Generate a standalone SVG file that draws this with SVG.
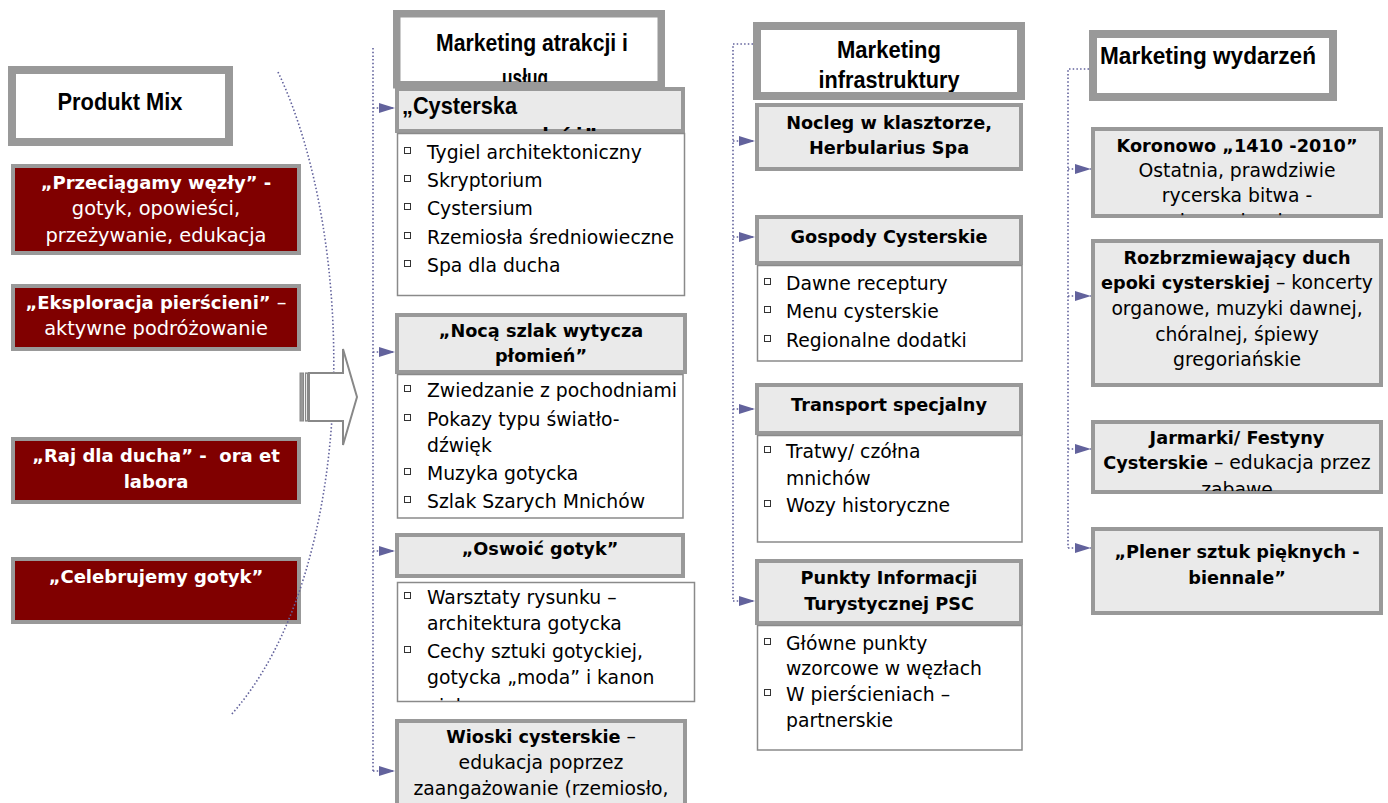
<svg xmlns="http://www.w3.org/2000/svg" width="1388" height="803" viewBox="0 0 1388 803">
<style>
.hdrbox{fill:#fff;stroke:#999;stroke-width:8}
.subbox{fill:#eaeaea;stroke:#999;stroke-width:4}
.listbox{fill:#fff;stroke:#8a8a8a;stroke-width:1.5}
.redbox{fill:#800000;stroke:#999;stroke-width:4}
.hdr{font-family:"Liberation Sans",Arial,sans-serif;font-weight:bold;font-size:24px;fill:#000;text-anchor:middle}
.t{font-family:"DejaVu Sans",Verdana,sans-serif;font-size:18.8px;fill:#000}
.t .bd,.t.bd{font-size:17.7px}
.rt{font-family:"DejaVu Sans",Verdana,sans-serif;font-size:19.4px;fill:#fff;text-anchor:middle}
.rt .bd,.rt.bd{font-size:18px}
.c{text-anchor:middle}
.bd{font-weight:bold}
.bul{fill:none;stroke:#333;stroke-width:1}
.conn{fill:none;stroke:#62629c;stroke-width:1.6;stroke-dasharray:1.5 2.2}
</style>
<defs>
<marker id="ah" viewBox="0 0 16 10" refX="16" refY="5" markerWidth="16" markerHeight="10" markerUnits="userSpaceOnUse" orient="auto"><path d="M0,0 L16,5 L0,10 z" fill="#62629c"/></marker>
<clipPath id="clipA"><rect x="401" y="17" width="256" height="65"/></clipPath>
<clipPath id="clipCy"><rect x="399" y="91" width="282" height="40"/></clipPath>
<clipPath id="clipOs"><rect x="398" y="583" width="296" height="118"/></clipPath>
<clipPath id="clipInf"><rect x="761" y="30" width="256" height="62"/></clipPath>
<clipPath id="clipKor"><rect x="1095" y="131" width="284" height="85"/></clipPath>
<clipPath id="clipJar"><rect x="1095" y="424" width="284" height="67"/></clipPath>
</defs>

<!-- Left column -->
<g id="n-produkt-mix">
<rect class="hdrbox" x="12" y="70" width="217" height="72"/>
<text class="hdr" x="120" y="110" textLength="125" lengthAdjust="spacingAndGlyphs">Produkt Mix</text>
</g>
<g id="n-przeciagamy">
<rect class="redbox" x="13" y="166" width="286" height="87"/>
<text class="rt bd" x="156" y="189">„Przeciągamy węzły” -</text>
<text class="rt" x="156" y="215">gotyk, opowieści,</text>
<text class="rt" x="156" y="242">przeżywanie, edukacja</text>
</g>
<g id="n-eksploracja">
<rect class="redbox" x="13" y="286" width="286" height="63"/>
<text class="rt" x="156" y="309"><tspan class="bd">„Eksploracja pierścieni”</tspan> –</text>
<text class="rt" x="156" y="335">aktywne podróżowanie</text>
</g>
<g id="n-raj">
<rect class="redbox" x="13" y="439" width="286" height="63"/>
<text class="rt bd" x="156" y="462">„Raj dla ducha” -&#160; ora et</text>
<text class="rt bd" x="156" y="488">labora</text>
</g>
<g id="n-celebrujemy">
<rect class="redbox" x="13" y="559" width="286" height="63"/>
<text class="rt bd" x="156" y="583">„Celebrujemy gotyk”</text>
</g>

<!-- Arc -->
<path id="arc" class="conn" d="M278,72 C358,240 360,570 231,715"/>

<!-- Big striped arrow -->
<g id="big-arrow">
<rect x="300" y="373" width="3.5" height="48" fill="#999" stroke="#888" stroke-width="1"/>
<rect x="305.5" y="373" width="2" height="48" fill="#fff" stroke="#888" stroke-width="1.2"/>
<polygon points="309,373 343,373 343,349 357,397 343,445 343,421 309,421" fill="#fff" stroke="#888" stroke-width="2"/>
</g>

<!-- Column 2 -->
<g id="n-marketing-atrakcji">
<rect class="hdrbox" x="396.75" y="13.75" width="264.5" height="71" style="stroke-width:7.5"/>
<g clip-path="url(#clipA)">
<text class="hdr" x="532" y="51" textLength="192" lengthAdjust="spacingAndGlyphs">Marketing atrakcji i</text>
<text class="hdr" x="525" y="86" textLength="46" lengthAdjust="spacingAndGlyphs">usług</text>
</g>
</g>
<g id="n-cysterska">
<rect class="subbox" x="397" y="89" width="286" height="42"/>
<g clip-path="url(#clipCy)">
<text class="hdr" x="402" y="114" style="text-anchor:start" textLength="115" lengthAdjust="spacingAndGlyphs">„Cysterska</text>
<text class="hdr" x="505" y="145" style="text-anchor:start">podróż”</text>
</g>
</g>
<g id="n-cysterska-list">
<rect class="listbox" x="397.5" y="133.5" width="287" height="162"/>
<rect class="bul" x="404.5" y="147.5" width="6" height="6"/><text class="t" x="427" y="159">Tygiel architektoniczny</text>
<rect class="bul" x="404.5" y="175.5" width="6" height="6"/><text class="t" x="427" y="187">Skryptorium</text>
<rect class="bul" x="404.5" y="203.5" width="6" height="6"/><text class="t" x="427" y="215">Cystersium</text>
<rect class="bul" x="404.5" y="232.5" width="6" height="6"/><text class="t" x="427" y="244">Rzemiosła średniowieczne</text>
<rect class="bul" x="404.5" y="260.5" width="6" height="6"/><text class="t" x="427" y="272">Spa dla ducha</text>
</g>
<g id="n-noca">
<rect class="subbox" x="397" y="315" width="288" height="57"/>
<text class="t bd c" x="541" y="337">„Nocą szlak wytycza</text>
<text class="t bd c" x="541" y="362">płomień”</text>
</g>
<g id="n-noca-list">
<rect class="listbox" x="397.5" y="374.5" width="285.5" height="143.5"/>
<rect class="bul" x="404.5" y="385.5" width="6" height="6"/><text class="t" x="427" y="397">Zwiedzanie z pochodniami</text>
<rect class="bul" x="404.5" y="414.5" width="6" height="6"/><text class="t" x="427" y="426">Pokazy typu światło-</text>
<text class="t" x="427" y="452">dźwięk</text>
<rect class="bul" x="404.5" y="468.5" width="6" height="6"/><text class="t" x="427" y="480">Muzyka gotycka</text>
<rect class="bul" x="404.5" y="496.5" width="6" height="6"/><text class="t" x="427" y="508">Szlak Szarych Mnichów</text>
</g>
<g id="n-oswoic">
<rect class="subbox" x="397" y="535" width="286" height="41"/>
<text class="t bd c" x="540" y="555">„Oswoić gotyk”</text>
</g>
<g id="n-oswoic-list">
<rect class="listbox" x="397.5" y="582.5" width="297" height="119"/>
<g clip-path="url(#clipOs)">
<rect class="bul" x="404.5" y="592.5" width="6" height="6"/><text class="t" x="427" y="604">Warsztaty rysunku –</text>
<text class="t" x="427" y="630">architektura gotycka</text>
<rect class="bul" x="404.5" y="646.5" width="6" height="6"/><text class="t" x="427" y="658">Cechy sztuki gotyckiej,</text>
<text class="t" x="427" y="684">gotycka „moda” i kanon</text>
<text class="t" x="427" y="713">piękna</text>
</g>
</g>
<g id="n-wioski">
<rect class="subbox" x="397" y="721" width="288" height="95"/>
<text class="t c" x="541" y="743"><tspan class="bd">Wioski cysterskie</tspan> –</text>
<text class="t c" x="541" y="769">edukacja poprzez</text>
<text class="t c" x="541" y="795">zaangażowanie (rzemiosło,</text>
</g>

<!-- Column 3 -->
<g id="n-marketing-infrastruktury">
<rect class="hdrbox" x="757" y="26" width="264" height="70"/>
<g clip-path="url(#clipInf)">
<text class="hdr" x="889" y="58" textLength="104" lengthAdjust="spacingAndGlyphs">Marketing</text>
<text class="hdr" x="889" y="88" textLength="141" lengthAdjust="spacingAndGlyphs">infrastruktury</text>
</g>
</g>
<g id="n-nocleg">
<rect class="subbox" x="757" y="105" width="264" height="64"/>
<text class="t bd c" x="889" y="129">Nocleg w klasztorze,</text>
<text class="t bd c" x="889" y="154">Herbularius Spa</text>
</g>
<g id="n-gospody">
<rect class="subbox" x="757" y="217" width="264" height="46"/>
<text class="t bd c" x="889" y="243">Gospody Cysterskie</text>
</g>
<g id="n-gospody-list">
<rect class="listbox" x="757.5" y="265.5" width="264.5" height="95.5"/>
<rect class="bul" x="764.5" y="278.5" width="6" height="6"/><text class="t" x="786" y="290">Dawne receptury</text>
<rect class="bul" x="764.5" y="306.5" width="6" height="6"/><text class="t" x="786" y="318">Menu cysterskie</text>
<rect class="bul" x="764.5" y="335.5" width="6" height="6"/><text class="t" x="786" y="347">Regionalne dodatki</text>
</g>
<g id="n-transport">
<rect class="subbox" x="757" y="385" width="264" height="48"/>
<text class="t bd c" x="889" y="411">Transport specjalny</text>
</g>
<g id="n-transport-list">
<rect class="listbox" x="757.5" y="435.5" width="264.5" height="106.5"/>
<rect class="bul" x="764.5" y="446.5" width="6" height="6"/><text class="t" x="786" y="458">Tratwy/ czółna</text>
<text class="t" x="786" y="485">mnichów</text>
<rect class="bul" x="764.5" y="500.5" width="6" height="6"/><text class="t" x="786" y="512">Wozy historyczne</text>
</g>
<g id="n-punkty">
<rect class="subbox" x="757" y="561" width="264" height="62"/>
<text class="t bd c" x="889" y="584">Punkty Informacji</text>
<text class="t bd c" x="889" y="610">Turystycznej PSC</text>
</g>
<g id="n-punkty-list">
<rect class="listbox" x="757.5" y="625.5" width="264.5" height="124.5"/>
<rect class="bul" x="764.5" y="638.5" width="6" height="6"/><text class="t" x="786" y="650">Główne punkty</text>
<text class="t" x="786" y="675">wzorcowe w węzłach</text>
<rect class="bul" x="764.5" y="689.5" width="6" height="6"/><text class="t" x="786" y="701">W pierścieniach –</text>
<text class="t" x="786" y="727">partnerskie</text>
</g>

<!-- Column 4 -->
<g id="n-marketing-wydarzen">
<rect class="hdrbox" x="1093" y="34" width="240" height="63"/>
<text class="hdr" x="1208" y="64" textLength="216" lengthAdjust="spacingAndGlyphs">Marketing wydarzeń</text>
</g>
<g id="n-koronowo">
<rect class="subbox" x="1093" y="129" width="288" height="87"/>
<g clip-path="url(#clipKor)">
<text class="t bd c" x="1237" y="152">Koronowo „1410 -2010”</text>
<text class="t c" x="1237" y="177">Ostatnia, prawdziwie</text>
<text class="t c" x="1237" y="202">rycerska bitwa -</text>
<text class="t c" x="1237" y="228">inscenizacja</text>
</g>
</g>
<g id="n-rozbrzmiewajacy">
<rect class="subbox" x="1093" y="241" width="288" height="144"/>
<text class="t bd c" x="1237" y="264">Rozbrzmiewający duch</text>
<text class="t c" x="1237" y="289"><tspan class="bd">epoki cysterskiej</tspan> – koncerty</text>
<text class="t c" x="1237" y="315">organowe, muzyki dawnej,</text>
<text class="t c" x="1237" y="341">chóralnej, śpiewy</text>
<text class="t c" x="1237" y="366">gregoriańskie</text>
</g>
<g id="n-jarmarki">
<rect class="subbox" x="1093" y="422" width="288" height="70"/>
<g clip-path="url(#clipJar)">
<text class="t bd c" x="1237" y="444">Jarmarki/ Festyny</text>
<text class="t c" x="1237" y="469"><tspan class="bd">Cysterskie</tspan> – edukacja przez</text>
<text class="t c" x="1237" y="496">zabawę</text>
</g>
</g>
<g id="n-plener">
<rect class="subbox" x="1093" y="529" width="288" height="84"/>
<text class="t bd c" x="1237" y="558">„Plener sztuk pięknych -</text>
<text class="t bd c" x="1237" y="584">biennale”</text>
</g>

<!-- Connectors -->
<g id="connectors">
<path class="conn" d="M373,48 V771"/>
<path class="conn" d="M373,108 H395" marker-end="url(#ah)"/>
<path class="conn" d="M373,352 H395" marker-end="url(#ah)"/>
<path class="conn" d="M373,551 H395" marker-end="url(#ah)"/>
<path class="conn" d="M373,771 H395" marker-end="url(#ah)"/>
<path class="conn" d="M753,44 H733 V601"/>
<path class="conn" d="M733,141 H755" marker-end="url(#ah)"/>
<path class="conn" d="M733,237 H755" marker-end="url(#ah)"/>
<path class="conn" d="M733,409 H755" marker-end="url(#ah)"/>
<path class="conn" d="M733,601 H755" marker-end="url(#ah)"/>
<path class="conn" d="M1089,69 H1068 V548"/>
<path class="conn" d="M1068,169 H1091" marker-end="url(#ah)"/>
<path class="conn" d="M1068,296 H1091" marker-end="url(#ah)"/>
<path class="conn" d="M1068,449 H1091" marker-end="url(#ah)"/>
<path class="conn" d="M1068,548 H1091" marker-end="url(#ah)"/>
</g>
</svg>
